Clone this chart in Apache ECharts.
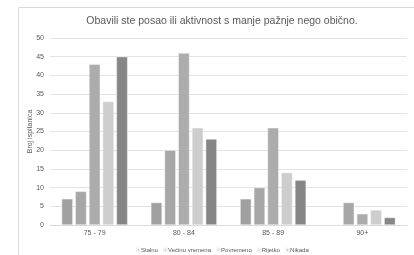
<!DOCTYPE html>
<html>
<head>
<meta charset="utf-8">
<script src="https://cdn.jsdelivr.net/npm/echarts@6/dist/echarts.min.js"></script>
<style>
    html, body {margin: 0; padding: 0; background: #fff;}
    #chart {width: 414px; height: 255px;}
</style>
</head>
<body>
<div id="chart"></div>
<script>
    // kategorije i podaci
    var dobneSkupine = ['75 - 79', '80 - 84', '85 - 89', '90+'];
    var stalno = [7, 6, 7, 0];
    var vecinuVremena = [9, 20, 10, 6];
    var povremeno = [43, 46, 26, 3];
    var rijetko = [33, 26, 14, 4];
    var nikada = [45, 23, 12, 2];
    var yTicks = [0, 5, 10, 15, 20, 25, 30, 35, 40, 45, 50];

    var chartDom = document.getElementById('chart');
    var myChart = echarts.init(chartDom);

    function serija(name, data, color) {
        return {
            name: name,
            type: 'bar',
            data: data,
            barGap: '22%',
            barCategoryGap: '26%',
            itemStyle: {color: color, borderColor: '#f4f4f4', borderWidth: 0.5}
        };
    }

    var option = {
        backgroundColor: '#ffffff',
        animation: false,
        title: {
            text: 'Obavili ste posao ili aktivnost s manje pažnje nego obično.',
            left: 217,
            top: 11,
            textAlign: 'center',
            textStyle: {fontFamily: 'Liberation Sans', fontSize: 10.5, fontWeight: 'normal', color: '#595959'}
        },
        graphic: [{
            type: 'rect',
            shape: {x: 18.5, y: 7.5, width: 420, height: 260},
            style: {fill: 'none', stroke: '#d9d9d9', lineWidth: 1},
            silent: true
        }],
        legend: {
            data: ['Stalno', 'Većinu vremena', 'Povremeno', 'Rijetko', 'Nikada'],
            left: 131,
            top: 242,
            itemWidth: 3,
            itemHeight: 3,
            itemGap: 5,
            icon: 'rect',
            textStyle: {fontFamily: 'Liberation Sans', fontSize: 6, color: '#595959', padding: [0, 0, 0, -4]}
        },
        grid: {left: 50, right: 7, top: 38, bottom: 30},
        xAxis: {
            type: 'category',
            data: dobneSkupine,
            axisLine: {lineStyle: {color: '#d9d9d9'}},
            axisTick: {show: false},
            axisLabel: {fontFamily: 'Liberation Sans', fontSize: 7, color: '#595959', margin: 5}
        },
        yAxis: {
            type: 'value',
            min: 0,
            max: 50,
            interval: 5,
            name: 'Broj ispitanica',
            nameLocation: 'middle',
            nameGap: 16,
            nameMoveOverlap: false,
            nameTextStyle: {fontFamily: 'Liberation Sans', fontSize: 7, color: '#595959'},
            axisLine: {show: false},
            axisTick: {show: false},
            axisLabel: {
                fontFamily: 'Liberation Sans', fontSize: 7, color: '#595959', margin: 6,
                formatter: function (v) { return yTicks.indexOf(v) >= 0 ? String(v) : ''; }
            },
            splitLine: {lineStyle: {color: '#e3e3e3'}}
        },
        series: [
            serija('Stalno', stalno, '#a0a0a0'),
            serija('Većinu vremena', vecinuVremena, '#a7a7a7'),
            serija('Povremeno', povremeno, '#acacac'),
            serija('Rijetko', rijetko, '#cdcdcd'),
            serija('Nikada', nikada, '#868686')
        ]
    };

    option && myChart.setOption(option);
</script>
</body>
</html>
